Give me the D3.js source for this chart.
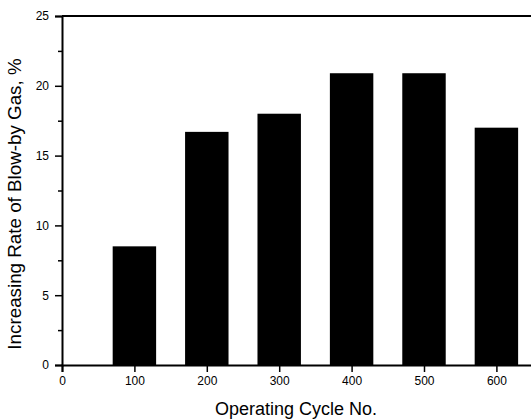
<!DOCTYPE html>
<html>
<head>
<meta charset="utf-8">
<script src="https://cdn.jsdelivr.net/npm/d3@7"></script>
<style>
  body { margin: 0; background: #fff; }
  text { font-family: "Liberation Sans", Arial, sans-serif; fill: #000; }
</style>
</head>
<body>
<div id="chart"></div>
<script>
// operating cycle vs increasing rate of blow-by gas
const cycles = [100, 200, 300, 400, 500, 600];
const rates = [8.5, 16.7, 18.0, 20.9, 20.9, 17.0];
const xTicks = [0, 100, 200, 300, 400, 500, 600];
const yTicks = [0, 5, 10, 15, 20, 25];
const yMinor = [2.5, 7.5, 12.5, 17.5, 22.5];

const width = 531, height = 419;
const plotLeft = 62, plotTop = 16, plotBottom = 365;

const svg = d3.select('#chart').append('svg')
  .attr('width', width)
  .attr('height', height);

const x = d3.scaleLinear().domain([0, 650]).range([plotLeft, plotLeft + 650 * 0.724]);
const y = d3.scaleLinear().domain([0, 25]).range([plotBottom, plotTop]);
const barW = 60;

svg.selectAll('rect.bar')
  .data(cycles)
  .enter()
  .append('rect')
  .attr('class', 'bar')
  .attr('x', (d) => x(d - barW / 2))
  .attr('width', (d) => x(d + barW / 2) - x(d - barW / 2))
  .attr('y', (d, i) => y(rates[i]))
  .attr('height', (d, i) => y(0) - y(rates[i]))
  .attr('fill', '#000');

// axes
const xAxis = svg.append('g')
  .attr('transform', `translate(0,${plotBottom})`)
  .call(d3.axisBottom(x).tickValues(xTicks).tickSize(7).tickPadding(4));
xAxis.selectAll('text').style('font-size', '12px');

const yAxis = svg.append('g')
  .attr('transform', `translate(${plotLeft},0)`)
  .call(d3.axisLeft(y).tickValues(yTicks).tickSize(7).tickPadding(6));
yAxis.selectAll('text').style('font-size', '12px');

svg.append('g')
  .attr('transform', `translate(${plotLeft},0)`)
  .call(d3.axisLeft(y).tickValues(yMinor).tickSize(4).tickFormat(''))
  .select('.domain').remove();

svg.selectAll('.domain').attr('stroke-width', 2);
svg.selectAll('.tick line').attr('stroke-width', 1.5);

// top frame line
svg.append('line')
  .attr('x1', plotLeft).attr('x2', width)
  .attr('y1', y(25)).attr('y2', y(25))
  .attr('stroke', '#000')
  .attr('stroke-width', 2);

svg.append('text')
  .attr('x', 296)
  .attr('y', 415)
  .attr('text-anchor', 'middle')
  .style('font-size', '18px')
  .text('Operating Cycle No.');

svg.append('text')
  .attr('transform', 'translate(21,204) rotate(-90)')
  .attr('text-anchor', 'middle')
  .style('font-size', '18.8px')
  .text('Increasing Rate of Blow-by Gas, %');
</script>
</body>
</html>
